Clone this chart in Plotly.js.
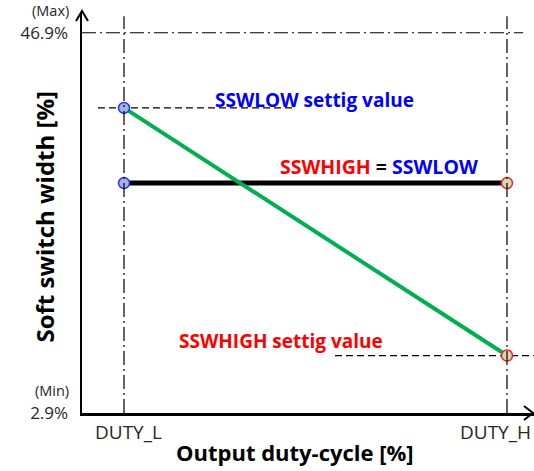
<!DOCTYPE html>
<html>
<head>
<meta charset="utf-8">
<script src="https://cdn.plot.ly/plotly-3.0.1.min.js"></script>
<style>
	html, body { margin: 0; padding: 0; background: #fff; }
	#graph { width: 534px; height: 471px; }
</style>
</head>
<body>
<div id="graph"></div>
<script>
// Duty-cycle positions on the x axis
const dutyLabels = ['DUTY_L', 'DUTY_H']
const dutyPos = [1, 2]

// Soft switch width limits [%]
const widthMin = 2.9
const widthMax = 46.9
const limitNames = ['(Min)', '(Max)']

// SSWLOW / SSWHIGH settings
const sswLowSetting = 38.2	// at DUTY_L
const sswHighSetting = 9.55	// at DUTY_H
const sswEqual = 29.5		// SSWHIGH = SSWLOW

const slopedY = [sswLowSetting, sswHighSetting]
const flatY = [sswEqual, sswEqual]
const lowMarkY = [sswLowSetting, sswEqual]
const highMarkY = [sswEqual, sswHighSetting]

const FONT = '"Open Sans", Lato, sans-serif'
const TXT = '#262626'
const RED = '#ff0000'
const BLUE = '#0000ff'

const data = [
	{	// SSWHIGH = SSWLOW
		x: dutyPos, y: flatY,
		mode: 'lines', line: { color: '#000000', width: 5 },
		hoverinfo: 'skip',
	}, {	// settings
		x: dutyPos, y: slopedY,
		mode: 'lines', line: { color: '#00b050', width: 4 },
		hoverinfo: 'skip',
	}, {
		x: [dutyPos[0], dutyPos[0]], y: lowMarkY,
		mode: 'markers',
		marker: { size: 11, color: '#a7b2d6', line: { color: '#2233ff', width: 1.5 } },
		hoverinfo: 'skip',
	}, {
		x: [dutyPos[1], dutyPos[1]], y: highMarkY,
		mode: 'markers',
		marker: { size: 11, color: '#c8ddb5', line: { color: '#ff2020', width: 1.5 } },
		hoverinfo: 'skip',
	},
]

const dashDot = '14px,4px,2px,4px'
const guide = { color: '#000000', width: 1.2, dash: dashDot }
const dashed = { color: '#000000', width: 1.2, dash: '7px,4px' }

const shapes = [
	// dash-dot guides at DUTY_L / DUTY_H and at the max width
	{ type: 'line', xref: 'x', yref: 'y', x0: dutyPos[0], x1: dutyPos[0], y0: widthMin, y1: 48.8, line: guide },
	{ type: 'line', xref: 'x', yref: 'y', x0: dutyPos[1], x1: dutyPos[1], y0: widthMin, y1: 48.8, line: guide },
	{ type: 'line', xref: 'paper', yref: 'y', x0: 0, x1: 0.976, y0: widthMax, y1: widthMax, line: guide },
	// dashed leaders for the settings
	{ type: 'line', xref: 'x', yref: 'y', x0: 0.932, x1: 1.441, y0: sswLowSetting, y1: sswLowSetting, line: dashed, layer: 'below' },
	{ type: 'line', xref: 'x', yref: 'y', x0: 1.551, x1: 2.07, y0: sswHighSetting, y1: sswHighSetting, line: dashed, layer: 'below' },
	// axis arrow heads
	{ type: 'path', xref: 'paper', yref: 'paper', xsizemode: 'pixel', ysizemode: 'pixel',
		xanchor: 0, yanchor: 1, path: 'M -6 -9 L 0 1 L 6 -9', line: { color: '#000', width: 2 } },
	{ type: 'path', xref: 'paper', yref: 'paper', xsizemode: 'pixel', ysizemode: 'pixel',
		xanchor: 1, yanchor: 0, path: 'M -10 7 L -1 0 L -10 -7', line: { color: '#000', width: 2 } },
]

const tickFont = { family: FONT, size: 19, color: TXT }
const limitFont = { family: FONT, size: 14.5, color: TXT }
const noteFont = (c) => ({ family: FONT, size: 19, color: c })

const annotations = [
	// limit names above the y tick labels
	{ text: limitNames[1], xref: 'paper', yref: 'y', x: -0.024, y: widthMax, yshift: 22.5,
		xanchor: 'right', yanchor: 'middle', showarrow: false, font: limitFont },
	{ text: limitNames[0], xref: 'paper', yref: 'y', x: -0.024, y: widthMin, yshift: 22.5,
		xanchor: 'right', yanchor: 'middle', showarrow: false, font: limitFont },
	// x tick labels (DUTY_H is pulled in so it stays inside the picture)
	{ text: dutyLabels[0], xref: 'x', yref: 'paper', x: dutyPos[0], y: 0, yshift: -19, xshift: 4,
		xanchor: 'center', yanchor: 'middle', showarrow: false, font: tickFont },
	{ text: dutyLabels[1], xref: 'x', yref: 'paper', x: dutyPos[1], y: 0, yshift: -19, xshift: 26,
		xanchor: 'right', yanchor: 'middle', showarrow: false, font: tickFont },
	// notes
	{ text: '<b>SSWLOW settig value</b>', xref: 'x', yref: 'y', x: 1.232, y: 39.1,
		xanchor: 'left', yanchor: 'middle', showarrow: false, font: noteFont(BLUE) },
	{ text: '<b><span style="color:' + RED + '">SSWHIGH</span> = <span style="color:' + BLUE + '">SSWLOW</span></b>',
		xref: 'x', yref: 'y', x: 1.402, y: 31.4,
		xanchor: 'left', yanchor: 'middle', showarrow: false, font: { family: FONT, size: 19.5, color: '#000' } },
	{ text: '<b>SSWHIGH settig value</b>', xref: 'x', yref: 'y', x: 1.138, y: 11.2,
		xanchor: 'left', yanchor: 'middle', showarrow: false, font: noteFont(RED) },
	// axis titles
	{ text: '<b>Output duty-cycle [%]</b>', xref: 'paper', yref: 'paper', x: 0.471, y: -0.097,
		xanchor: 'center', yanchor: 'middle', showarrow: false, font: { family: FONT, size: 22, color: '#000' } },
	{ text: '<b>Soft switch width [%]</b>', xref: 'paper', yref: 'paper', x: -0.084, y: 0.49, textangle: -90,
		xanchor: 'center', yanchor: 'middle', showarrow: false, font: { family: FONT, size: 24, color: '#000' } },
]

const layout = {
	width: 534,
	height: 471,
	margin: { l: 82, r: 0, t: 12, b: 58 },
	paper_bgcolor: '#ffffff',
	plot_bgcolor: '#ffffff',
	showlegend: false,
	xaxis: {
		range: [0.8903, 2.0705],
		showgrid: false, zeroline: false,
		showline: true, linecolor: '#000', linewidth: 2.5,
		tickvals: dutyPos, ticks: '',
		showticklabels: false,
	},
	yaxis: {
		range: [widthMin, 49.3],
		showgrid: false, zeroline: false,
		showline: true, linecolor: '#000', linewidth: 2.5,
		tickvals: [widthMin, widthMax],
		ticktext: [widthMin + '%', widthMax + '%'],
		ticks: '',
		ticklabelstandoff: 8,
		tickfont: { family: FONT, size: 17, color: TXT },
	},
	shapes: shapes,
	annotations: annotations,
}

Plotly.newPlot('graph', data, layout, { staticPlot: true })
</script>
</body>
</html>
